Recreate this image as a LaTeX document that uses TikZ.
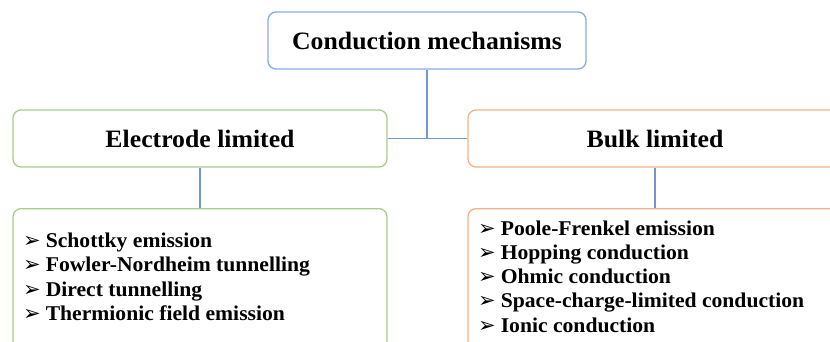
\documentclass[tikz,border=0pt]{standalone}
\usepackage{fontspec}
\setmainfont[FakeStretch=1.03]{Liberation Serif}
\newfontfamily\symfont{DejaVu Sans}
\usetikzlibrary{positioning}
\definecolor{lineB}{RGB}{114,150,212}
\definecolor{boxB}{RGB}{134,172,226}
\definecolor{boxG}{RGB}{166,206,138}
\definecolor{boxO}{RGB}{244,176,132}
\newcommand{\itemarrow}{{\symfont\fontsize{21}{21}\selectfont ➢}\hspace{5pt}}

\begin{document}
\begin{tikzpicture}[x=1pt, y=-1pt,
    every node/.style={font=\bfseries},
    headbox/.style={draw, rounded corners=8pt, line width=1.3pt, inner sep=0pt,
      minimum height=57pt, font=\bfseries\fontsize{25}{28}\selectfont},
    listbox/.style={draw, rounded corners=8pt, line width=1.3pt, inner sep=0pt,
      minimum width=374pt, minimum height=150pt},
    itemtext/.style={anchor=base west, inner sep=0pt, font=\bfseries\fontsize{21}{24}\selectfont},
    link/.style={draw=lineB, line width=1.6pt}]
  \useasboundingbox (0,0) rectangle (830,341);
  \clip (0,0) rectangle (830,341);
  % top level
  \node[headbox, draw=boxB, minimum width=318pt] (top) at (427,40.5) {Conduction mechanisms};
  \node[headbox, draw=boxG, minimum width=374pt] (elec) at (200,138.5) {Electrode limited};
  \node[headbox, draw=boxO, minimum width=374pt] (bulk) at (655,138.5) {Bulk limited};
  % lists
  \node[listbox, draw=boxG, anchor=north] (elist) at (200,208) {};
  \node[listbox, draw=boxO, anchor=north] (blist) at (655,208) {};
  \foreach \txt [count=\i] in {Schottky emission, Fowler-Nordheim tunnelling,
      Direct tunnelling, Thermionic field emission}
    \node[itemtext] (e\i) at (23,{247+24.5*(\i-1)}) {\itemarrow\txt};
  \foreach \txt [count=\i] in {Poole-Frenkel emission, Hopping conduction,
      Ohmic conduction, Space-charge-limited conduction, Ionic conduction}
    \node[itemtext] (b\i) at (478,{235+24.3*(\i-1)}) {\itemarrow\txt};
  % connectors
  \coordinate (mid) at (top.south |- elec.east);
  \draw[link] (top.south) -- (mid);
  \draw[link] (elec.east) -- (bulk.west);
  \draw[link] (elec.south) -- (elist.north);
  \draw[link] (bulk.south) -- (blist.north);
\end{tikzpicture}
\end{document}
